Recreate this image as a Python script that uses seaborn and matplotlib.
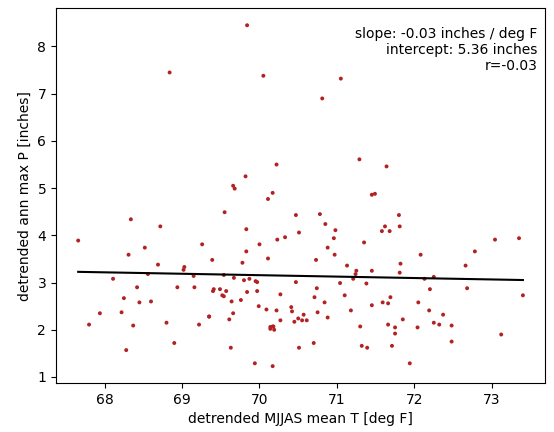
import numpy as np
import pandas as pd
import matplotlib
matplotlib.use("Agg")
import matplotlib.pyplot as plt
import seaborn as sns

temp = [67.66,67.80,67.94,68.11,68.22,68.25,68.28,68.31,68.34,68.37,68.42,68.45,68.52,68.56,68.60,
        68.69,68.72,68.80,68.90,68.94,69.02,69.03,69.15,69.16,69.22,69.26,69.35,69.35,69.39,69.40,
        69.41,69.49,69.52,69.54,69.54,69.55,69.57,69.61,69.63,69.64,69.66,69.66,69.67,69.68,69.76,
        69.78,69.80,69.82,69.83,69.83,69.84,69.87,69.94,69.95,69.97,69.97,69.99,70.00,70.09,70.11,
        70.11,70.14,70.17,70.14,70.18,70.19,70.17,70.17,70.22,70.22,70.23,70.27,70.27,70.33,70.41,
        70.42,70.45,70.47,70.47,70.50,70.51,70.51,70.55,70.57,70.61,
        70.70,70.71,70.73,70.74,70.75,70.78,70.84,70.85,70.88,70.88,70.96,70.97,70.98,71.04,71.10,
        71.13,71.18,71.21,71.24,71.25,71.29,71.30,71.32,71.35,71.38,71.39,71.45,71.49,71.45,71.45,
        71.58,71.59,71.62,71.64,71.66,71.66,71.68,71.69,71.71,71.75,71.75,71.80,71.81,71.81,71.82,
        71.85,71.94,72.04,72.05,72.08,72.13,72.19,72.20,72.25,72.25,72.32,72.37,72.48,72.48,72.66,
        72.68,72.78,73.04,73.12,73.35,73.40,
        69.84,68.84,70.05,71.05,70.81]
precip = [3.89,2.11,2.35,3.08,2.37,2.67,1.57,3.59,4.34,2.09,2.90,2.58,3.74,3.18,2.60,
          3.38,4.19,2.15,1.72,2.90,3.27,3.33,3.14,2.90,2.11,3.81,2.28,2.28,3.48,2.82,
          2.86,2.86,2.73,2.71,3.16,4.49,2.82,2.22,1.62,2.60,5.05,2.35,3.10,4.99,2.63,
          3.42,3.05,5.25,4.13,3.66,2.80,3.08,1.29,3.03,3.01,2.82,2.50,3.81,2.43,4.77,
          3.51,2.06,2.07,2.02,2.07,2.00,4.90,1.23,5.50,2.41,3.91,2.75,2.20,3.96,2.48,
          2.39,2.17,4.43,3.01,2.24,4.06,1.62,2.20,2.32,2.20,
          1.72,2.69,3.48,2.88,2.37,4.45,2.58,4.24,3.74,2.26,3.94,3.59,4.11,2.99,2.73,
          3.36,2.41,3.08,3.18,3.25,5.61,2.07,1.66,3.85,2.98,1.62,4.86,4.88,3.25,2.52,
          4.09,2.58,4.19,5.46,2.56,2.11,4.09,2.69,1.66,2.05,1.92,4.43,4.19,3.21,3.40,
          2.22,1.29,2.05,2.58,3.59,3.08,2.41,2.86,3.12,2.15,2.11,2.32,2.09,1.75,3.36,
          2.88,3.66,3.91,1.90,3.94,2.73,
          8.45,7.45,7.38,7.32,6.90]

df = pd.DataFrame({"T": temp, "P": precip})

fig, ax = plt.subplots(figsize=(5.54, 4.32), dpi=100)
fig.subplots_adjust(left=0.101, right=0.984, top=0.981, bottom=0.113)
sns.scatterplot(data=df, x="T", y="P", ax=ax, color="#b22222", s=8, edgecolor="none")
m, b = np.polyfit(df["T"], df["P"], 1)
xs = np.array([df["T"].min(), df["T"].max()])
sns.lineplot(x=xs, y=m * xs + b, ax=ax, color="black")
ax.text(0.985, 0.95, "slope: -0.03 inches / deg F\nintercept: 5.36 inches\nr=-0.03",
        transform=ax.transAxes, ha="right", va="top", fontsize=10)
ax.set_xlabel("detrended MJJAS mean T [deg F]")
ax.set_ylabel("detrended ann max P [inches]")
fig.savefig("out.png", dpi=100)
